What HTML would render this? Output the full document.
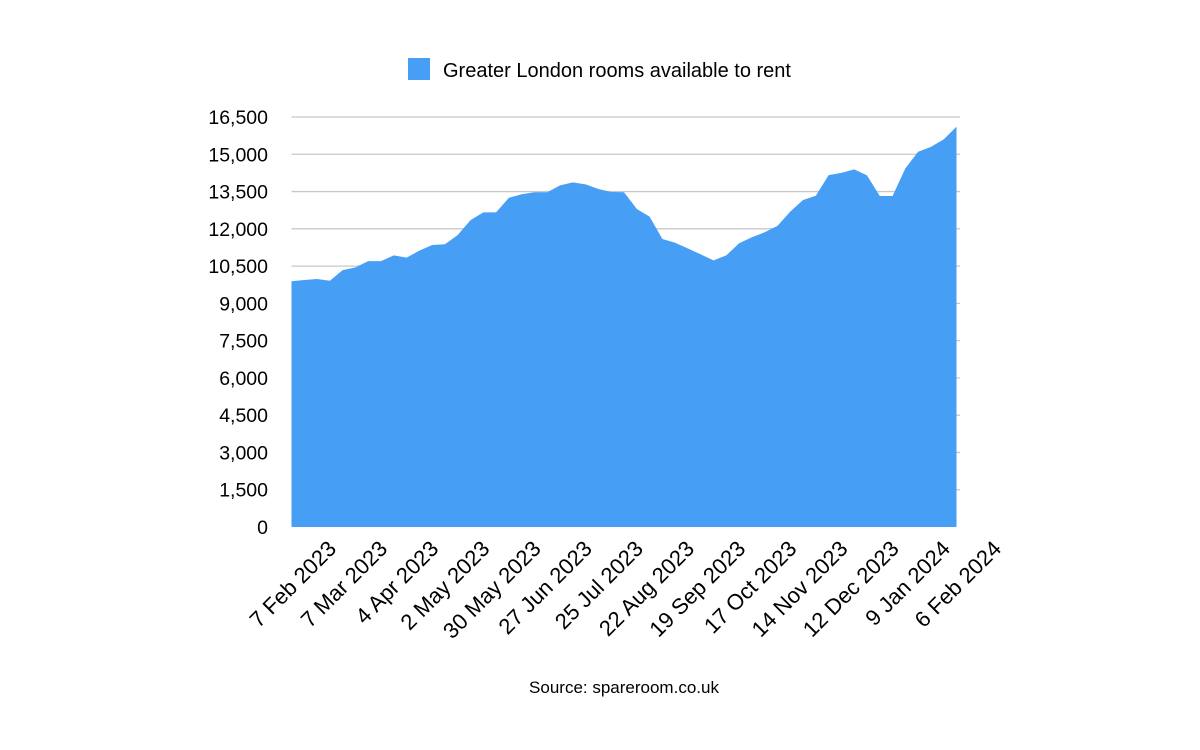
<!DOCTYPE html>
<html><head><meta charset="utf-8"><style>
body{margin:0;background:#fff;}
svg text{font-family:"Liberation Sans",Arial,sans-serif;fill:#000;}
</style></head><body>
<svg id="chart" width="1200" height="745" viewBox="0 0 1200 745" xmlns="http://www.w3.org/2000/svg">
<rect x="408" y="58" width="22" height="22" fill="#479ef5"/>
<text x="443" y="77" font-size="20">Greater London rooms available to rent</text>
<g id="grid"></g>
<g id="area"></g>
<g id="yticks"></g>
<g id="xticks"></g>
<text x="624" y="693" font-size="17" text-anchor="middle">Source: spareroom.co.uk</text>
</svg>
<script>
const values=[9890,9940,9980,9910,10340,10450,10700,10700,10930,10840,11120,11350,11380,11750,12350,12660,12660,13250,13390,13470,13470,13750,13870,13790,13600,13480,13470,12800,12490,11590,11440,11210,10970,10730,10930,11420,11660,11860,12120,12690,13160,13330,14160,14250,14390,14150,13320,13320,14430,15100,15300,15600,16110];
const yTicks=[0,1500,3000,4500,6000,7500,9000,10500,12000,13500,15000,16500];
const xLabelIdx=[0,4,8,12,16,20,24,28,32,36,40,44,48,52];
const xLabels=["7 Feb 2023","7 Mar 2023","4 Apr 2023","2 May 2023","30 May 2023","27 Jun 2023","25 Jul 2023","22 Aug 2023","19 Sep 2023","17 Oct 2023","14 Nov 2023","12 Dec 2023","9 Jan 2024","6 Feb 2024"];
const NS="http://www.w3.org/2000/svg";
const x0=291.5,x1=956.5,yBase=527,yTop=117,vMax=16500;
const X=i=>x0+(x1-x0)*i/(values.length-1);
const Y=v=>yBase-(yBase-yTop)*v/vMax;
const grid=document.getElementById('grid'),yt=document.getElementById('yticks'),xt=document.getElementById('xticks'),area=document.getElementById('area');
yTicks.forEach(t=>{
  if(t>0){const l=document.createElementNS(NS,'line');
  l.setAttribute('x1',x0);l.setAttribute('x2',960);l.setAttribute('y1',Y(t));l.setAttribute('y2',Y(t));
  l.setAttribute('stroke','#c8c8c8');l.setAttribute('stroke-width','1.3');
  
  
  grid.appendChild(l);}
  const tx=document.createElementNS(NS,'text');
  tx.setAttribute('x',268);tx.setAttribute('y',Y(t)+7);tx.setAttribute('text-anchor','end');tx.setAttribute('font-size','19.5');
  tx.textContent=t.toLocaleString('en-US');
  
  
  yt.appendChild(tx);
});
let d='M'+X(0)+','+yBase;
values.forEach((v,i)=>{d+=' L'+X(i)+','+Y(v);});
d+=' L'+X(values.length-1)+','+yBase+' Z';
const p=document.createElementNS(NS,'path');
p.setAttribute('d',d);p.setAttribute('fill','#479ef5');


area.appendChild(p);
xLabelIdx.forEach((idx,k)=>{
  const tx=document.createElementNS(NS,'text');
  const ax=X(idx)+46,ay=550;
  tx.setAttribute('x',ax);tx.setAttribute('y',ay);tx.setAttribute('text-anchor','end');tx.setAttribute('font-size','22');
  tx.setAttribute('transform','rotate(-45 '+ax+' '+ay+')');
  tx.textContent=xLabels[k];
  
  
  xt.appendChild(tx);
});
</script>
</body></html>
